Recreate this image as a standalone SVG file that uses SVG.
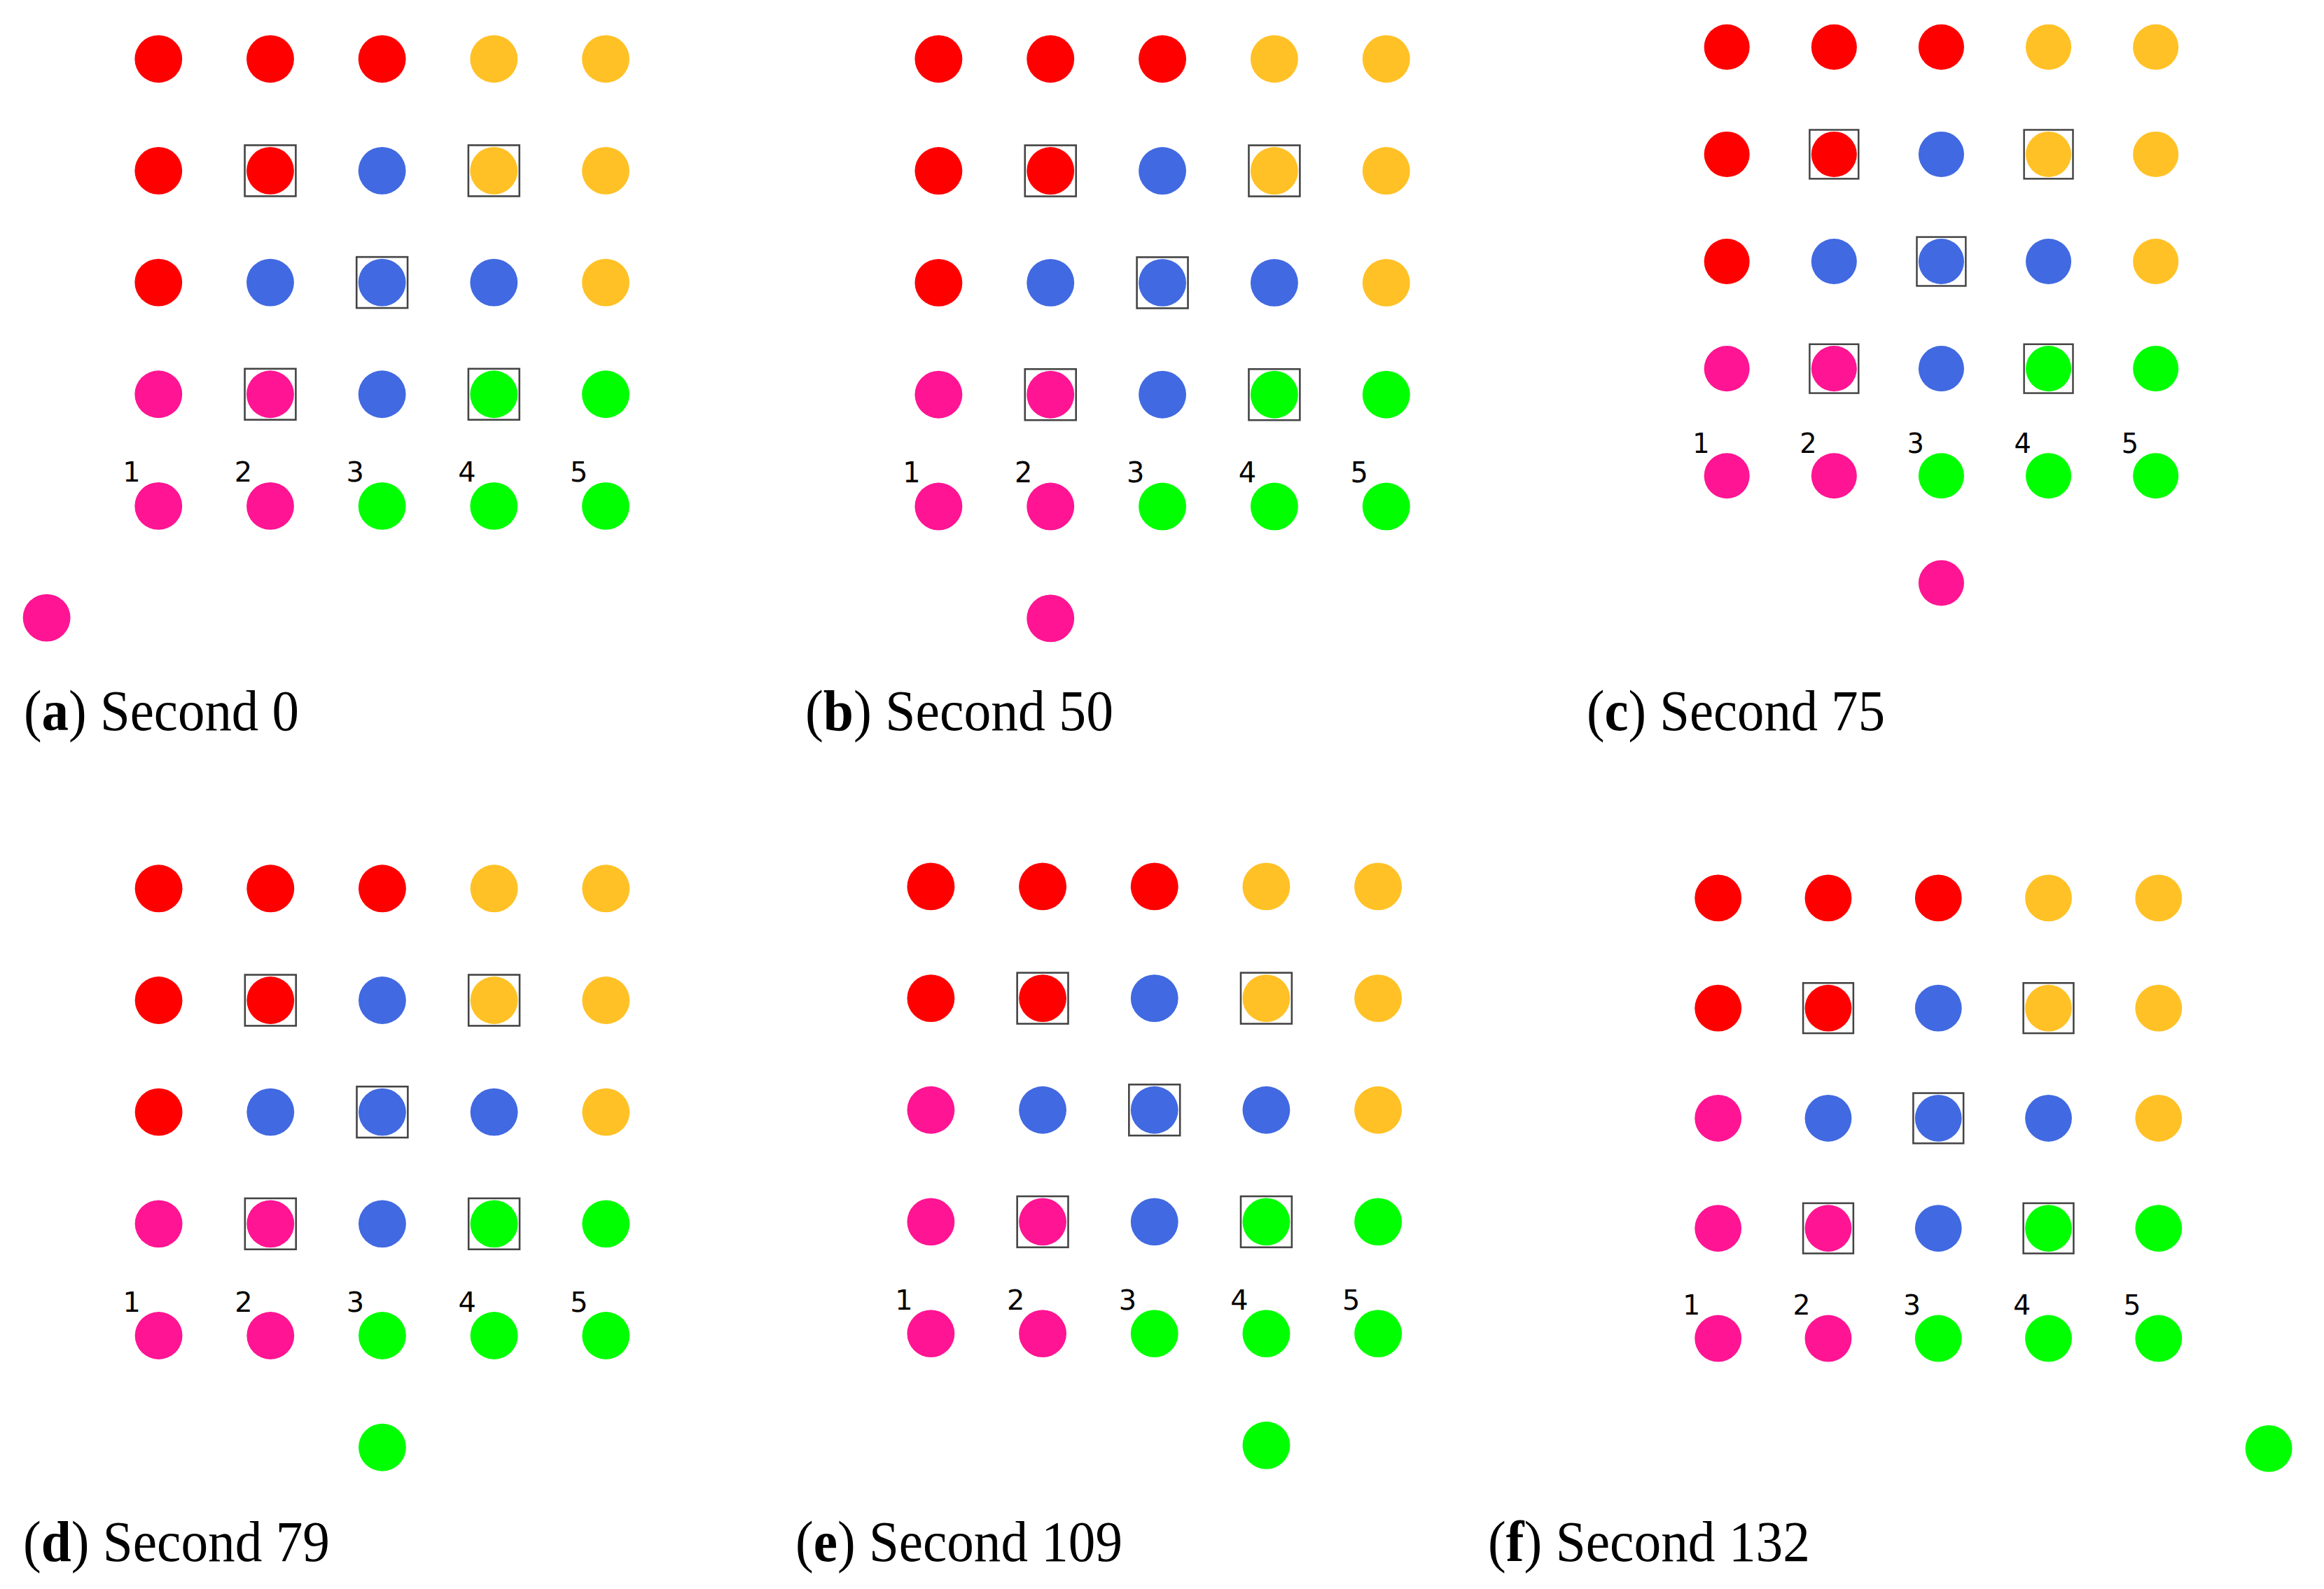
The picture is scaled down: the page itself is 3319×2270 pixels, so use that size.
<svg xmlns="http://www.w3.org/2000/svg" width="3319" height="2270" viewBox="0 0 3319 2270">
<style>
circle{stroke:none}
.R{fill:#FF0000}.O{fill:#FFC125}.B{fill:#4169E1}.P{fill:#FF1493}.G{fill:#00FF00}
.box{fill:none;stroke:#444;stroke-width:2.6}
.lbl{font-family:"DejaVu Sans",sans-serif;font-size:40px;fill:#000;text-anchor:middle}
.cap{font-family:"Liberation Serif",serif;font-size:83px;fill:#000}
</style>
<defs>
<g id="topRows">
<circle class="R" cx="0" cy="0" r="34"/><circle class="R" cx="160" cy="0" r="34"/><circle class="R" cx="320" cy="0" r="34"/><circle class="O" cx="480" cy="0" r="34"/><circle class="O" cx="640" cy="0" r="34"/>
<circle class="R" cx="0" cy="160" r="34"/><circle class="R" cx="160" cy="160" r="34"/><circle class="B" cx="320" cy="160" r="34"/><circle class="O" cx="480" cy="160" r="34"/><circle class="O" cx="640" cy="160" r="34"/>
<circle class="B" cx="160" cy="320" r="34"/><circle class="B" cx="320" cy="320" r="34"/><circle class="B" cx="480" cy="320" r="34"/><circle class="O" cx="640" cy="320" r="34"/>
<circle class="P" cx="0" cy="480" r="34"/><circle class="P" cx="160" cy="480" r="34"/><circle class="B" cx="320" cy="480" r="34"/><circle class="G" cx="480" cy="480" r="34"/><circle class="G" cx="640" cy="480" r="34"/>
<circle class="P" cx="0" cy="640" r="34"/><circle class="P" cx="160" cy="640" r="34"/><circle class="G" cx="320" cy="640" r="34"/><circle class="G" cx="480" cy="640" r="34"/><circle class="G" cx="640" cy="640" r="34"/>
<rect class="box" x="123.5" y="123.5" width="73" height="73"/>
<rect class="box" x="443.5" y="123.5" width="73" height="73"/>
<rect class="box" x="283.5" y="283.5" width="73" height="73"/>
<rect class="box" x="123.5" y="443.5" width="73" height="73"/>
<rect class="box" x="443.5" y="443.5" width="73" height="73"/>
<text class="lbl" x="-38.5" y="605.5">1</text>
<text class="lbl" x="121.5" y="605.5">2</text>
<text class="lbl" x="281.5" y="605.5">3</text>
<text class="lbl" x="441.5" y="605.5">4</text>
<text class="lbl" x="601.5" y="605.5">5</text>
</g>
</defs>

<g id="panel-a" transform="translate(226.3,84.2) scale(0.998)">
<use href="#topRows"/>
<circle class="R" cx="0" cy="320" r="34"/>
<circle class="P" cx="-160" cy="800" r="34"/>
</g>

<g id="panel-b" transform="translate(1340.4,84.2) scale(0.999)">
<use href="#topRows"/>
<circle class="R" cx="0" cy="320" r="34"/>
<circle class="P" cx="160" cy="800" r="34"/>
</g>

<g id="panel-c" transform="translate(2466.2,67.3) scale(0.957)">
<use href="#topRows"/>
<circle class="R" cx="0" cy="320" r="34"/>
<circle class="P" cx="320" cy="800" r="34"/>
</g>

<g id="panel-d" transform="translate(226.6,1269.3) scale(0.998)">
<use href="#topRows"/>
<circle class="R" cx="0" cy="320" r="34"/>
<circle class="G" cx="320" cy="800" r="34"/>
</g>

<g id="panel-e" transform="translate(1329.4,1266.4) scale(0.998)">
<use href="#topRows"/>
<circle class="P" cx="0" cy="320" r="34"/>
<circle class="G" cx="480" cy="800" r="34"/>
</g>

<g id="panel-f" transform="translate(2453.7,1282.9) scale(0.983)">
<use href="#topRows"/>
<circle class="P" cx="0" cy="320" r="34"/>
<circle class="G" cx="800" cy="800" r="34"/>
</g>

<g id="captions">
<text class="cap" x="34" y="1043" textLength="393" lengthAdjust="spacingAndGlyphs">(<tspan font-weight="bold">a</tspan>) Second 0</text>
<text class="cap" x="1150" y="1043" textLength="440" lengthAdjust="spacingAndGlyphs">(<tspan font-weight="bold">b</tspan>) Second 50</text>
<text class="cap" x="2266" y="1043" textLength="426" lengthAdjust="spacingAndGlyphs">(<tspan font-weight="bold">c</tspan>) Second 75</text>
<text class="cap" x="33" y="2230" textLength="438" lengthAdjust="spacingAndGlyphs">(<tspan font-weight="bold">d</tspan>) Second 79</text>
<text class="cap" x="1136" y="2230" textLength="467" lengthAdjust="spacingAndGlyphs">(<tspan font-weight="bold">e</tspan>) Second 109</text>
<text class="cap" x="2125" y="2230" textLength="460" lengthAdjust="spacingAndGlyphs">(<tspan font-weight="bold">f</tspan>) Second 132</text>
</g>
</svg>
